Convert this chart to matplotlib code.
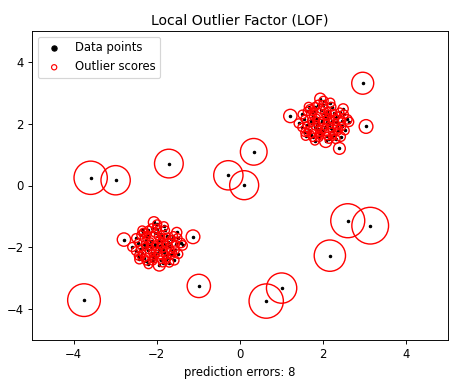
import numpy as np
import matplotlib
matplotlib.use("Agg")
import matplotlib.pyplot as plt

# Cluster shape (offsets from each cluster centre)
cluster_dx = [-0.07, 0.01, 0.17, 0.48, -0.38, -0.20, -0.26, -0.04, 0.10, 0.34,
              0.58, 0.62, -0.59, -0.51, -0.42, -0.25, -0.10, 0.06, 0.25, 0.44,
              0.42, -0.04, 0.33, -0.79,
              -0.30, -0.15, 0.05, 0.20, 0.15, -0.20, -0.35, 0.00, 0.20, -0.10,
              0.30, -0.45, -0.25, 0.10, 0.25, -0.05, -0.30, 0.10, 0.35, -0.40,
              0.45, -0.15, 0.05, 0.20, -0.35, 0.50, -0.50, 0.30, -0.20, 0.00,
              0.12, -0.12, 0.28, -0.28, 0.40, -0.05, 0.18, -0.38, 0.08, -0.22,
              -0.08, 0.22, -0.32, 0.38, -0.18, 0.14, -0.44, 0.52, 0.02, -0.12]
cluster_dy = [0.81, 0.74, 0.68, 0.48, 0.40, 0.55, 0.38, 0.10, 0.42, 0.26,
              0.14, 0.06, 0.01, -0.12, -0.39, -0.44, -0.44, -0.57, -0.35, -0.09,
              -0.42, 0.04, -0.09, 0.25,
              0.10, 0.20, 0.25, 0.10, -0.05, -0.10, -0.20, -0.20, -0.25, -0.30,
              0.05, 0.15, 0.25, 0.20, 0.35, 0.45, -0.35, -0.40, -0.25, -0.05,
              0.10, 0.00, -0.10, 0.55, 0.55, 0.30, 0.30, -0.50, -0.55, 0.60,
              0.32, -0.18, 0.18, 0.02, 0.38, -0.28, -0.15, -0.28, 0.05, 0.40,
              -0.38, -0.42, 0.48, -0.18, 0.12, -0.50, -0.28, -0.22, 0.35, 0.62]
cluster_sizes = [90, 60, 60, 75, 50, 50, 40, 30, 35, 40,
                 65, 65, 60, 50, 60, 50, 50, 110, 40, 50,
                 65, 30, 35, 130,
                 30, 30, 30, 30, 30, 30, 35, 30, 35, 35,
                 30, 40, 35, 30, 35, 40, 40, 40, 40, 35,
                 45, 30, 30, 55, 55, 55, 55, 55, 55, 60,
                 30, 30, 35, 35, 45, 35, 30, 40, 30, 35,
                 45, 45, 50, 40, 30, 50, 50, 55, 35, 55]
cluster_centers_x = [2.0, -2.0]
cluster_centers_y = [2.0, -2.0]

# Outliers
outlier_x = [2.95, 3.03, 2.39, 0.33, -1.71, -3.59, -2.99, -0.28, 0.10, 2.59,
             3.13, 2.16, -1.13, -0.99, 1.00, 0.63, -3.75]
outlier_y = [3.31, 1.91, 1.20, 1.09, 0.71, 0.25, 0.17, 0.33, 0.01, -1.14,
             -1.30, -2.27, -1.66, -3.25, -3.32, -3.74, -3.71]
outlier_sizes = [355, 138, 101, 523, 605, 814, 630, 630, 618, 849,
                 990, 720, 138, 399, 674, 864, 785]

xs, ys, ss = [], [], []
for cx, cy in zip(cluster_centers_x, cluster_centers_y):
    for dx, dy, s in zip(cluster_dx, cluster_dy, cluster_sizes):
        xs.append(cx + dx)
        ys.append(cy + dy)
        ss.append(s)
xs += outlier_x
ys += outlier_y
ss += outlier_sizes
xs = np.array(xs)
ys = np.array(ys)
ss = np.array(ss)

dpi = 84
fig = plt.figure(figsize=(474 / dpi, 382 / dpi), dpi=dpi)
ax = fig.add_axes([32 / 474, 42 / 382, 416 / 474, 309 / 382])

ax.scatter(xs, ys, color="k", s=4.0, label="Data points")
ax.scatter(xs, ys, s=ss, edgecolors="r", facecolors="none", linewidths=1.2,
           label="Outlier scores")
ax.set_xlim(-5, 5)
ax.set_ylim(-5, 5)
ax.set_xticks([-4, -2, 0, 2, 4])
ax.set_yticks([-4, -2, 0, 2, 4])
ax.set_xlabel("prediction errors: 8")
ax.set_title("Local Outlier Factor (LOF)")
leg = ax.legend(loc="upper left")
for h in leg.legend_handles:
    h.set_sizes([20])
    h.set_linewidth(1.0)

fig.savefig("out.png", dpi=dpi)
